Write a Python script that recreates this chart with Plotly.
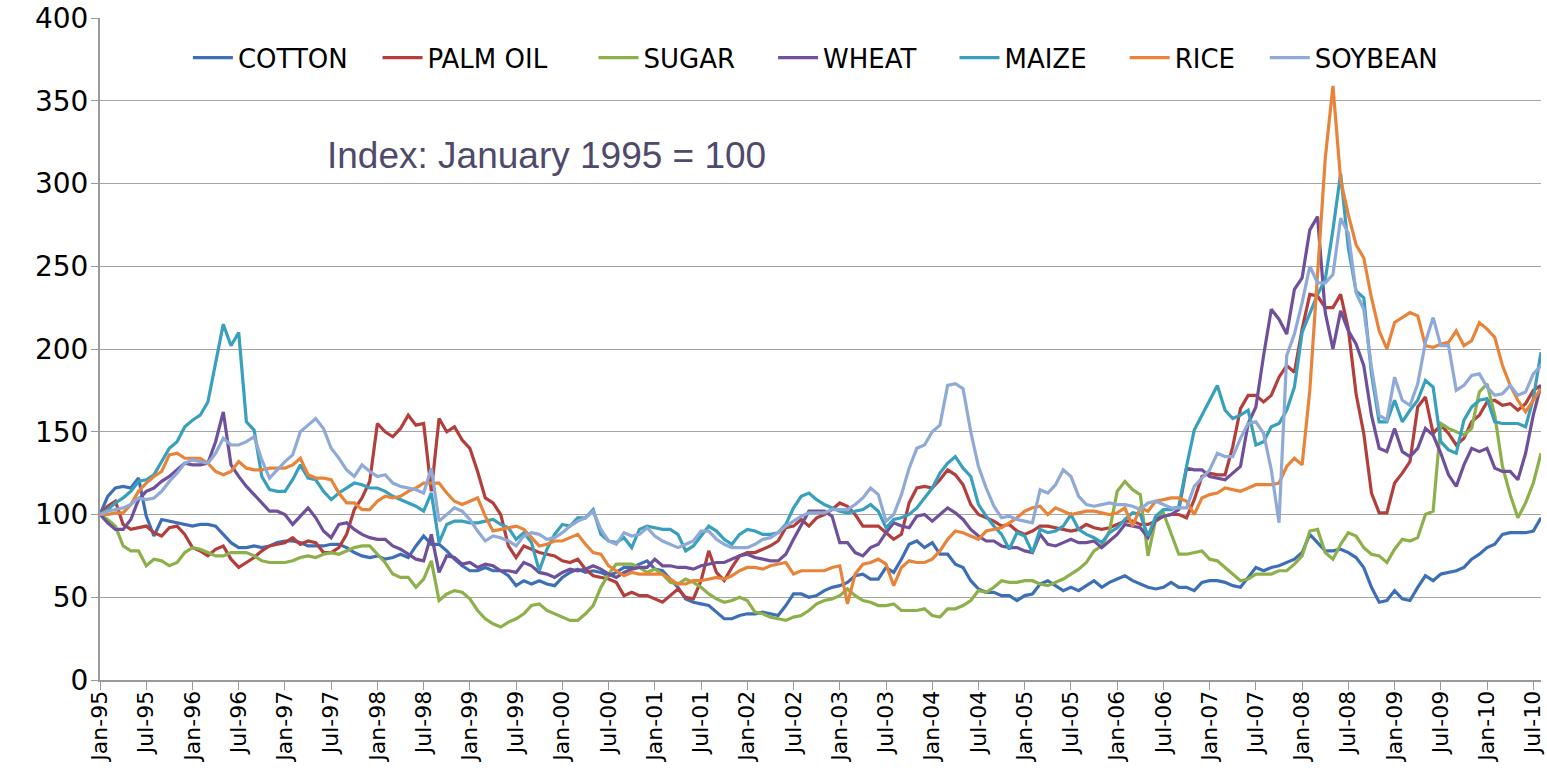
import plotly.graph_objects as go

month_names = ["Jan", "Feb", "Mar", "Apr", "May", "Jun", "Jul", "Aug", "Sep", "Oct", "Nov", "Dec"]
years = list(range(1995, 2011))
months = [f"{m}-{y % 100:02d}" for y in years for m in month_names][:188]
tick_labels = months[::6]

cotton = [100,111,116,117,116,122,99,87,97,96,95,94,93,94,94,93,88,83,80,80,81,80,81,83,84,
 84,83,81,81,81,82,82,80,77,75,74,75,73,74,76,
 74,81,87,82,82,78,73,69,66,66,68,66,
 66,63,57,60,58,60,58,57,62,65,67,65,66,65,63,65,68,68,70,
 72,67,66,61,56,49,47,46,45,41,37,37,39,40,40,41,40,39,45,52,52,50,51,
 54,56,57,59,63,64,61,61,68,65,73,82,84,80,83,76,76,70,68,60,55,53,53,51,
 51,48,51,52,58,60,57,54,56,54,57,60,56,59,61,63,60,58,56,55,56,59,56,
 56,54,59,60,60,59,57,56,62,68,66,68,69,71,73,77,88,83,78,78,79,77,74,
 68,56,47,48,54,49,48,56,63,60,64,65,66,68,73,76,80,82,88,89,89,89,90,98]

palm_oil = [100,105,108,94,91,92,93,89,87,92,93,88,80,78,75,79,81,73,68,71,74,78,81,82,83,
 86,82,84,83,77,77,80,88,103,110,120,155,150,147,152,
 160,154,155,114,158,150,153,145,140,126,110,107,
 100,81,74,81,79,77,76,75,72,71,73,67,63,62,61,59,51,53,51,
 51,49,47,51,55,50,49,60,78,65,60,68,75,77,77,79,81,84,92,93,97,93,98,
 100,103,107,105,100,93,93,93,89,85,88,107,116,117,116,121,127,124,118,106,100,98,96,93,
 94,90,88,90,93,93,92,91,90,91,94,92,91,92,94,96,96,94,94,96,99,100,100,
 98,109,123,125,124,124,141,164,172,172,168,172,183,190,186,212,233,232,225,225,233,212,173,
 149,113,101,101,119,125,132,165,171,149,154,149,142,146,156,160,168,169,166,167,163,167,175,178]

sugar = [100,97,93,81,78,78,69,73,72,69,71,77,80,79,77,75,75,77,77,77,75,72,71,71,71,
 72,74,75,74,76,77,76,78,80,81,81,76,71,64,62,
 62,56,61,72,48,52,54,53,49,42,37,34,
 32,35,37,40,45,46,42,40,38,36,36,40,45,56,64,70,70,70,68,
 65,67,64,59,58,61,59,56,52,49,47,48,50,48,41,40,38,37,36,38,39,42,46,
 48,49,51,55,51,48,47,45,45,46,42,42,42,43,39,38,43,43,45,48,54,53,56,60,
 59,59,60,60,58,57,59,61,64,67,71,78,81,90,114,120,115,112,75,97,101,88,76,
 76,77,78,73,72,68,64,60,61,64,64,64,66,66,70,75,90,91,77,73,82,89,87,
 80,76,75,71,79,85,84,86,100,102,155,152,150,148,152,174,179,160,129,112,98,107,119,137]

wheat = [100,95,91,91,97,109,114,116,120,123,127,131,130,130,131,144,162,130,123,117,112,107,102,102,100,
 94,99,104,98,90,86,94,95,91,88,86,85,85,81,79,
 76,73,72,88,65,75,74,70,71,68,70,69,
 66,66,65,71,69,65,64,62,65,67,66,67,69,67,64,62,65,67,68,
 68,73,69,69,68,68,67,69,70,71,71,73,75,76,74,73,72,72,76,85,94,102,102,
 102,99,83,83,77,75,80,82,89,95,93,92,99,100,96,100,104,101,97,91,87,84,84,81,
 80,80,78,77,88,82,81,83,85,83,83,84,80,84,88,94,93,92,86,97,99,100,103,
 128,127,127,123,122,121,125,129,155,165,196,224,218,209,236,243,272,280,222,200,223,211,203,
 190,160,140,138,152,138,135,140,152,148,137,124,117,130,140,138,140,128,126,126,121,137,160,178]

maize = [100,103,107,110,114,120,121,124,132,140,144,153,157,160,168,192,215,202,210,156,151,123,115,114,114,
 121,130,122,121,114,109,113,116,119,118,116,116,114,111,109,
 107,105,102,113,83,94,96,96,95,95,96,97,
 94,92,85,89,83,66,79,88,94,93,98,98,103,88,84,83,86,80,91,
 93,92,91,91,88,78,81,87,93,90,85,82,88,91,90,88,88,89,94,104,111,113,109,
 106,104,102,101,102,103,106,102,92,97,98,100,104,110,116,125,131,135,128,123,106,99,93,88,
 79,89,87,77,91,89,90,93,100,91,88,86,83,89,92,97,101,100,87,99,103,103,105,
 129,151,160,169,178,163,158,160,163,142,144,153,155,163,177,210,222,233,242,272,306,261,235,
 231,185,156,156,169,156,163,169,181,177,144,139,137,157,165,169,170,156,155,155,155,153,170,198]

rice = [100,100,101,101,106,114,119,123,126,136,137,134,134,134,131,126,124,126,132,128,127,127,128,128,128,
 130,134,124,122,122,121,113,107,107,103,103,108,111,110,111,
 114,116,119,119,119,113,108,106,108,110,99,90,
 91,92,93,91,86,81,82,84,84,86,88,82,77,76,69,66,63,65,64,
 64,64,64,61,58,58,60,60,61,62,61,63,66,68,68,67,69,70,71,64,66,66,66,
 66,68,69,46,64,70,71,73,70,57,68,72,71,71,73,78,85,90,89,87,85,90,91,92,
 95,98,102,104,105,100,104,102,100,101,102,102,101,100,101,104,93,104,102,108,109,110,110,
 108,100,110,112,113,116,115,114,116,118,118,118,119,129,134,130,175,246,315,359,302,281,263,
 255,231,211,200,216,219,222,220,202,201,203,204,211,202,205,216,212,207,190,178,169,162,169,176]

soybean = [100,102,103,104,106,110,109,110,114,120,125,131,133,132,131,137,146,142,142,144,147,133,122,127,132,
 136,150,154,158,152,140,134,127,123,130,126,123,124,119,117,
 116,115,113,128,96,100,104,102,97,90,84,87,
 86,84,81,87,89,88,85,86,89,93,96,98,102,91,84,82,89,87,88,
 92,87,84,82,80,82,84,90,90,85,82,80,80,80,82,85,86,89,93,96,99,101,101,
 101,103,103,103,106,110,116,112,96,100,112,128,140,142,150,154,178,179,176,150,129,116,105,98,
 99,97,96,95,115,113,118,127,123,111,106,105,106,107,106,106,105,103,107,108,106,104,104,
 104,117,122,127,137,135,135,146,155,156,149,127,95,196,209,228,250,240,240,245,279,270,234,
 224,189,160,157,183,169,166,179,204,219,202,202,175,178,184,185,177,172,173,178,172,174,185,190]

series = [
    ("COTTON", cotton, "#3D6FB6"),
    ("PALM OIL", palm_oil, "#B33F3C"),
    ("SUGAR", sugar, "#8DB04B"),
    ("WHEAT", wheat, "#6E509B"),
    ("MAIZE", maize, "#38A0BC"),
    ("RICE", rice, "#E8843A"),
    ("SOYBEAN", soybean, "#8FAAD7"),
]

# trailing non-breaking spaces per legend entry (spacing only)
legend_pad = {"COTTON": 3, "PALM OIL": 5, "SUGAR": 4, "WHEAT": 4, "MAIZE": 4, "RICE": 3, "SOYBEAN": 0}

fig = go.Figure()
for name, vals, color in series:
    fig.add_trace(go.Scatter(
        x=months, y=vals, mode="lines", name=name + "\u00a0" * legend_pad[name],
        line=dict(color=color, width=3.2),
    ))

fig.update_layout(
    width=1547, height=774,
    margin=dict(l=100, r=6, t=18, b=94),
    paper_bgcolor="white", plot_bgcolor="white",
    showlegend=True,
    legend=dict(
        orientation="h", x=0.061, y=0.94, xanchor="left", yanchor="middle",
        font=dict(family="DejaVu Sans", size=26, color="black"),
        bgcolor="rgba(0,0,0,0)", itemwidth=40, traceorder="normal",
    ),
    annotations=[dict(
        text="Index: January 1995 = 100", xref="paper", yref="paper",
        x=0.156, y=0.792, xanchor="left", yanchor="middle", showarrow=False,
        font=dict(family="Liberation Sans", size=37, color="#4F4A6B"),
    )],
)

fig.update_xaxes(
    type="category", range=[0, len(months) - 1],
    tickmode="array", tickvals=tick_labels, ticktext=tick_labels,
    tickangle=-90, ticks="outside", ticklen=8, tickcolor="#9A9A9A",
    ticklabelstandoff=-8,
    showline=True, linecolor="#9A9A9A", linewidth=2,
    showgrid=False, automargin=False,
    tickfont=dict(family="DejaVu Sans", size=22, color="black"),
)
fig.update_yaxes(
    range=[0, 400], dtick=50, tick0=0,
    showgrid=True, gridcolor="#A6A6A6", gridwidth=1.3,
    ticks="outside", ticklen=7, tickcolor="#9A9A9A",
    ticklabelstandoff=-3, ticklabeloverflow="allow",
    showline=True, linecolor="#9A9A9A", linewidth=2,
    zeroline=False, automargin=False,
    tickfont=dict(family="DejaVu Sans", size=28, color="black"),
)

fig.write_html(
    "out.html",
    config={"displayModeBar": False},
    post_script="document.body.style.margin='0';",
)
